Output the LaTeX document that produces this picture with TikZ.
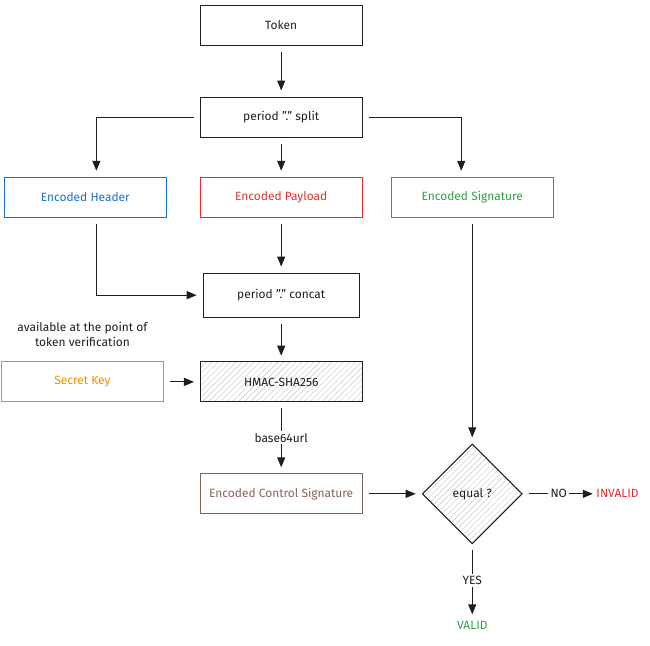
\documentclass[tikz,border=0pt]{standalone}
\usepackage{fontspec}
\setmainfont{Fira Sans}
\usepackage{xcolor}
\usepackage{tikz}
\usetikzlibrary{arrows.meta,positioning,shapes.geometric,patterns.meta}

\definecolor{tinta}{HTML}{1E1E1E}
\definecolor{azul}{HTML}{1971C2}
\definecolor{rojo}{HTML}{E03131}
\definecolor{verde}{HTML}{2F9E44}
\definecolor{naranja}{HTML}{F08C00}
\definecolor{marron}{HTML}{846358}

\begin{document}
\begin{tikzpicture}[
    font=\fontsize{8.5}{10.5}\selectfont,
    caja/.style={draw=#1, text=#1, line width=0.75pt, align=center,
                 minimum width=4.05cm, minimum height=1cm, inner sep=3pt},
    caja/.default=tinta,
    rayado/.style={pattern={Lines[angle=45,distance=3pt,line width=0.3pt]},
                   pattern color=gray!45},
    decision/.style={diamond, draw=tinta, text=tinta, line width=0.75pt,
                     minimum width=2.5cm, minimum height=2.5cm, inner sep=0pt},
    flecha/.style={-{Triangle[length=2.5mm,width=2mm]}, line width=0.75pt, tinta,
                   shorten <=1.5mm, shorten >=1.5mm},
    etiq/.style={fill=white, text=tinta, inner sep=1.5pt},
    node distance=1.3cm
  ]
    \useasboundingbox (0,0) rectangle (16.25,-16.15);
    \node[caja] (token) at (7.03,-0.63) {Token};
    \node[caja, below=1.27cm of token] (split) {period "." split};
    \node[caja=rojo, below=0.98cm of split] (pay) {Encoded Payload};
    \node[caja=azul, left=0.82cm of pay] (head) {Encoded Header};
    \node[caja=verde, right=0.7cm of pay] (sig) {Encoded Signature};
    \node[caja, below=1.37cm of pay, minimum height=1.1cm, minimum width=3.9cm] (concat) {period "." concat};
    \node[caja, rayado, below=1.1cm of concat] (hmac) {HMAC-SHA256};
    \node[caja=naranja, left=0.9cm of hmac] (key) {Secret Key};
    \node[above=0.25cm of key, text=tinta, align=center] (nota) {available at the point of\\token verification};
    \node[caja=marron, below=1.78cm of hmac] (ctrl) {Encoded Control Signature};
    \node[decision, rayado] (eq) at (sig |- ctrl) {equal ?};
    \node[right=1.8cm of eq, text=rojo, inner sep=1pt] (inv) {INVALID};
    \node[below=1.8cm of eq, text=verde] (val) {VALID};
    \draw[flecha] (token) -- (split);
    \draw[flecha] (split) -- (pay);
    \draw[flecha] (split.west) -| ([xshift=2.75mm]head.north);
    \draw[flecha] (split.east) -| ([xshift=-2.75mm]sig.north);
    \draw[flecha] (pay) -- (concat);
    \draw[flecha] ([xshift=2.75mm]head.south) |- (concat.west);
    \draw[flecha] (concat) -- (hmac);
    \draw[flecha] (key) -- (hmac);
    \draw[flecha] (hmac) -- node[etiq] {base64url} (ctrl);
    \draw[flecha] (ctrl) -- (eq);
    \draw[flecha] (sig) -- (eq);
    \draw[flecha, shorten >=0.5mm] (eq) -- node[etiq] {NO} (inv);
    \draw[flecha, shorten >=0.5mm] (eq) -- node[etiq] {YES} (val);
\end{tikzpicture}
\end{document}
